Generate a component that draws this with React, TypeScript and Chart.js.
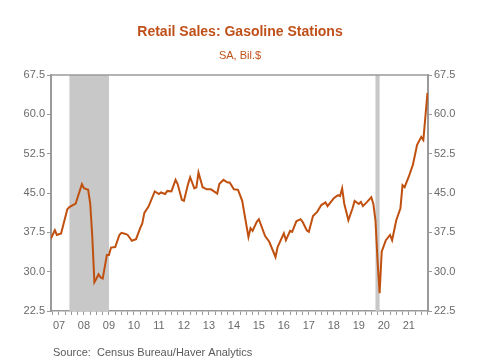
import React, { useEffect, useRef } from "react";
import { Chart, registerables } from "chart.js";

Chart.register(...registerables);

// ---- data ----
const months: string[] = [
  "2007-03", "2007-05", "2007-06", "2007-08", "2007-11", "2007-12",
  "2008-03", "2008-06", "2008-07", "2008-09", "2008-10", "2008-11", "2008-12",
  "2009-01", "2009-02", "2009-03", "2009-04", "2009-06", "2009-07", "2009-08", "2009-10", "2009-12",
  "2010-01", "2010-03", "2010-04", "2010-06", "2010-08", "2010-10", "2010-11", "2010-12",
  "2011-02", "2011-05", "2011-07", "2011-08", "2011-10", "2011-11",
  "2012-01", "2012-03", "2012-04", "2012-06", "2012-07", "2012-09", "2012-10", "2012-12",
  "2013-01", "2013-02", "2013-04", "2013-06", "2013-08", "2013-11", "2013-12",
  "2014-02", "2014-04", "2014-05", "2014-07", "2014-09", "2014-11",
  "2015-02", "2015-03", "2015-04", "2015-06", "2015-07", "2015-10", "2015-12",
  "2016-03", "2016-04", "2016-07", "2016-08", "2016-10", "2016-11",
  "2017-01", "2017-03", "2017-04", "2017-06", "2017-07", "2017-09", "2017-11",
  "2018-01", "2018-03", "2018-04", "2018-06", "2018-07", "2018-09", "2018-10", "2018-11", "2018-12",
  "2019-02", "2019-04", "2019-05", "2019-07", "2019-08", "2019-09", "2019-11",
  "2020-01", "2020-02", "2020-03", "2020-04", "2020-05", "2020-06", "2020-08", "2020-10", "2020-11",
  "2021-01", "2021-03", "2021-04", "2021-05", "2021-07", "2021-09", "2021-11",
  "2022-01", "2022-02", "2022-03", "2022-04",
];

const sales: number[] = [
  36.2, 37.9, 37.0, 37.3, 41.9, 42.3,
  43.0, 46.7, 45.9, 45.6, 43.0, 36.6, 28.0,
  28.7, 29.5, 28.9, 28.7, 33.2, 33.2, 34.6, 34.7, 37.0,
  37.4, 37.2, 37.0, 35.9, 36.2, 38.3, 39.2, 41.2,
  42.4, 45.3, 44.8, 45.1, 44.8, 45.4,
  45.3, 47.5, 46.7, 43.7, 43.5, 46.7, 48.0, 45.9,
  46.1, 48.9, 46.1, 45.7, 45.7, 44.9, 46.7,
  47.5, 47.0, 47.0, 45.7, 45.6, 43.5,
  36.6, 38.3, 37.8, 39.5, 40.0, 36.8, 35.7,
  32.8, 34.7, 37.3, 36.0, 37.8, 37.6,
  39.6, 40.0, 39.5, 37.9, 37.6, 40.6, 41.4,
  42.7, 43.2, 42.5, 43.5, 44.0, 44.6, 44.4, 45.9, 43.0,
  39.8, 42.1, 43.5, 42.9, 43.3, 42.5, 43.3,
  44.2, 42.9, 39.8, 32.2, 25.9, 33.8, 36.0, 37.0, 36.0,
  39.8, 42.1, 46.5, 46.1, 48.1, 50.4, 54.2,
  55.7, 55.1, 59.6, 64.1,
];

const recessionStart: string[] = ["2007-12", "2020-03"];
const recessionEnd: string[] = ["2009-06", "2020-04"];

const yearLabels: string[] = ["07", "08", "09", "10", "11", "12", "13", "14", "15", "16", "17", "18", "19", "20", "21"];
const firstYear = 2007;
const yTicks: number[] = [22.5, 30.0, 37.5, 45.0, 52.5, 60.0, 67.5];

const titleText = "Retail Sales: Gasoline Stations";
const subtitleText = "SA, Bil.$";
const sourceText = "Source:  Census Bureau/Haver Analytics";

// ---- styles ----
const LINE_COLOR = "#C0500F";
const TITLE_COLOR = "#C0501A";
const AXIS_COLOR = "#9a9a9a";
const TEXT_COLOR = "#6a6a6a";
const SHADE_COLOR = "#c8c8c8";
const FONT = "'Liberation Sans', Arial, sans-serif";

function toX(m: string): number {
  const [y, mo] = m.split("-").map(Number);
  return y + (mo - 1) / 12;
}

const decorPlugin = {
  id: "decor",
  beforeDatasetsDraw(chart: any) {
    const { ctx, chartArea, scales } = chart;
    const xs = scales.x;
    ctx.save();
    ctx.fillStyle = SHADE_COLOR;
    for (let i = 0; i < recessionStart.length; i++) {
      const x0 = xs.getPixelForValue(toX(recessionStart[i]));
      const x1 = xs.getPixelForValue(toX(recessionEnd[i]) + 1 / 12);
      ctx.fillRect(x0, chartArea.top, x1 - x0, chartArea.bottom - chartArea.top);
    }
    ctx.restore();
  },
  afterDraw(chart: any) {
    const { ctx, chartArea } = chart;
    ctx.save();
    // top frame
    ctx.strokeStyle = AXIS_COLOR;
    ctx.lineWidth = 1.5;
    ctx.beginPath();
    ctx.moveTo(chartArea.left, chartArea.top);
    ctx.lineTo(chartArea.right, chartArea.top);
    ctx.stroke();
    // texts
    ctx.textAlign = "center";
    ctx.textBaseline = "middle";
    ctx.fillStyle = TITLE_COLOR;
    ctx.font = `bold 14px ${FONT}`;
    ctx.fillText(titleText, 240, 32);
    ctx.font = `11px ${FONT}`;
    ctx.fillText(subtitleText, 240, 56);
    ctx.textAlign = "left";
    ctx.fillStyle = "#5a5a5a";
    ctx.font = `11px ${FONT}`;
    ctx.fillText(sourceText, 53, 353);
    ctx.restore();
  },
};

export default function App() {
  const ref = useRef<HTMLCanvasElement | null>(null);

  useEffect(() => {
    if (!ref.current) return;
    const points = months.map((m, i) => ({ x: toX(m), y: sales[i] }));
    const quarterTicks: number[] = [];
    for (let v = 2007.25; v <= 2022.25 + 1e-9; v += 0.25) quarterTicks.push(Math.round(v * 100) / 100);

    const yAxisCommon = {
      type: "linear" as const,
      min: yTicks[0],
      max: yTicks[yTicks.length - 1],
      afterBuildTicks: (scale: any) => {
        scale.ticks = yTicks.map((v) => ({ value: v }));
      },
      grid: { display: true, drawOnChartArea: false, drawTicks: true, tickLength: 4, color: AXIS_COLOR, lineWidth: 1 },
      border: { display: true, color: AXIS_COLOR, width: 2 },
      ticks: {
        color: TEXT_COLOR,
        font: { family: FONT, size: 11 },
        padding: 2,
        callback: (v: any) => Number(v).toFixed(1),
      },
    };

    const chart = new Chart(ref.current, {
      type: "line",
      data: {
        datasets: [
          {
            data: points,
            borderColor: LINE_COLOR,
            borderWidth: 2,
            pointRadius: 0,
            tension: 0,
            fill: false,
            yAxisID: "y",
          },
        ],
      },
      options: {
        animation: false,
        responsive: false,
        devicePixelRatio: 1,
        layout: { padding: { top: 75, left: 0, right: 0, bottom: 0 } },
        plugins: { legend: { display: false }, tooltip: { enabled: false }, title: { display: false } },
        scales: {
          x: {
            type: "linear",
            min: 2007.18,
            max: 2022.27,
            afterBuildTicks: (scale: any) => {
              scale.ticks = quarterTicks.map((v) => ({ value: v }));
            },
            afterFit: (scale: any) => {
              scale.height = 49;
            },
            grid: { display: true, drawOnChartArea: false, drawTicks: true, tickLength: 4, color: AXIS_COLOR, lineWidth: 1 },
            border: { display: true, color: AXIS_COLOR, width: 1.5 },
            ticks: {
              autoSkip: false,
              maxRotation: 0,
              minRotation: 0,
              color: TEXT_COLOR,
              font: { family: FONT, size: 11 },
              padding: 4,
              callback: (v: any) => {
                const n = Number(v);
                const frac = n - Math.floor(n);
                if (Math.abs(frac - 0.5) < 1e-6) {
                  const lbl = yearLabels[Math.floor(n) - firstYear];
                  return lbl ?? "";
                }
                return "";
              },
            },
          },
          y: {
            ...yAxisCommon,
            position: "left",
            afterFit: (scale: any) => {
              scale.width = 51;
            },
          },
          y2: {
            ...yAxisCommon,
            position: "right",
            afterFit: (scale: any) => {
              scale.width = 52;
            },
          },
        },
      } as any,
      plugins: [decorPlugin],
    });
    return () => chart.destroy();
  }, []);

  return (
    <div style={{ position: "absolute", left: 0, top: 0, width: 480, height: 360, background: "#fff" }}>
      <canvas ref={ref} width={480} height={360} style={{ display: "block", width: 480, height: 360 }} />
    </div>
  );
}
